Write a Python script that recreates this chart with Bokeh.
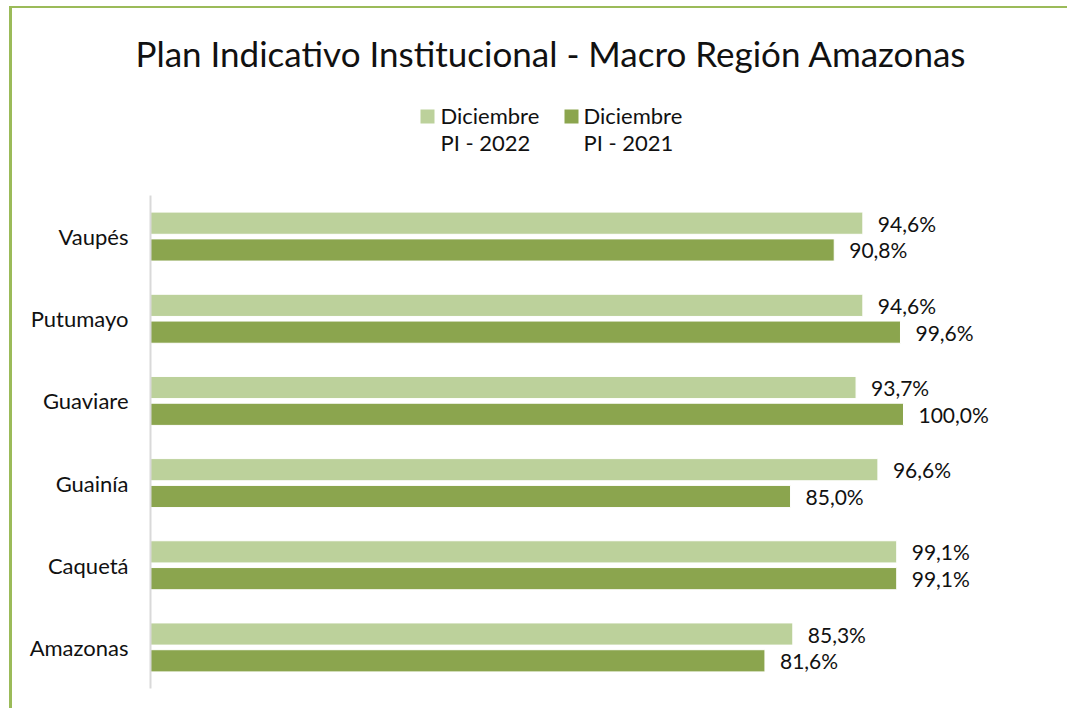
from bokeh.plotting import figure
from bokeh.layouts import column
from bokeh.models import ColumnDataSource, FactorRange, Range1d, Title
from bokeh.transform import dodge
from bokeh.core.properties import value
from bokeh.embed import file_html
from bokeh.resources import INLINE

categories = ["Amazonas", "Caquetá", "Guainía", "Guaviare", "Putumayo", "Vaupés"]
pi_2022 = [85.3, 99.1, 96.6, 93.7, 94.6, 94.6]
pi_2021 = [81.6, 99.1, 85.0, 100.0, 99.6, 90.8]
series_names = ["Diciembre", "Diciembre"]
series_sub = ["PI - 2022", "PI - 2021"]
title_text = "Plan Indicativo Institucional - Macro Región Amazonas"

LIGHT = "#BCD19B"
DARK = "#8BA54E"
FONT = "Lato"
TXT = "#111111"

def fmt(v):
    return f"{v:.1f}".replace(".", ",") + "%"

src = ColumnDataSource(dict(
    cat=categories,
    a=pi_2022,
    b=pi_2021,
    la=[fmt(v) for v in pi_2022],
    lb=[fmt(v) for v in pi_2021],
))

W = 1055
TOP_H = 187
MB_L = 138
MB_R = W - MB_L - 900
HEAD = 70

# ---- header (title + legend); frame uses canvas pixel coordinates ----
top = figure(width=W, height=TOP_H, output_backend="svg", toolbar_location=None, tools="",
             x_range=Range1d(MB_L, W - MB_R), y_range=Range1d(TOP_H, HEAD),
             x_axis_location=None, y_axis_location=None,
             min_border_left=MB_L, min_border_right=MB_R,
             min_border_top=HEAD, min_border_bottom=0)
top.title = Title(text=title_text, align="left", offset=-15, standoff=10,
                  text_font=FONT, text_font_size="35px", text_font_style="normal",
                  text_color=TXT)
top.outline_line_color = None
top.xgrid.visible = False
top.ygrid.visible = False
top.background_fill_color = "white"
top.border_fill_color = "white"

leg = ColumnDataSource(dict(
    bx=[415, 559], by=[108, 108], col=[LIGHT, DARK],
    tx=[428, 571], t1=series_names, t2=series_sub,
    y1=[107, 107], y2=[134, 134],
))
top.rect(x="bx", y="by", width=14, height=14, fill_color="col", line_color=None, source=leg)
top.text(x="tx", y="y1", text="t1", source=leg, text_font=value(FONT), text_font_size="22px",
         text_color=TXT, text_align="left", text_baseline="middle")
top.text(x="tx", y="y2", text="t2", source=leg, text_font=value(FONT), text_font_size="22px",
         text_color=TXT, text_align="left", text_baseline="middle")

# ---- main bar chart ----
H = 513
p = figure(width=W, height=H, output_backend="svg", toolbar_location=None, tools="",
           y_range=FactorRange(*categories), x_range=Range1d(0, 900 * 100 / 753),
           x_axis_location=None, title=None,
           min_border_left=MB_L, min_border_right=MB_R,
           min_border_top=0, min_border_bottom=20)
p.outline_line_color = None
p.background_fill_color = "white"
p.border_fill_color = "white"
p.xgrid.visible = False
p.ygrid.visible = False

off = 0.163
hgt = 0.27
p.hbar(y=dodge("cat", off, range=p.y_range), right="a", left=0, height=hgt, source=src,
       fill_color=LIGHT, line_color="white", line_width=1)
p.hbar(y=dodge("cat", -off, range=p.y_range), right="b", left=0, height=hgt, source=src,
       fill_color=DARK, line_color="white", line_width=1)

p.text(x="a", y=dodge("cat", off, range=p.y_range), text="la", source=src, x_offset=15,
       text_font=value(FONT), text_font_size="21px", text_color=TXT,
       text_baseline="middle", text_align="left")
p.text(x="b", y=dodge("cat", -off, range=p.y_range), text="lb", source=src, x_offset=15,
       text_font=value(FONT), text_font_size="21px", text_color=TXT,
       text_baseline="middle", text_align="left")

ax = p.yaxis[0]
ax.axis_line_color = "#D9D9D9"
ax.axis_line_width = 2
ax.major_tick_line_color = None
ax.minor_tick_line_color = None
ax.major_tick_out = 0
ax.major_tick_in = 0
ax.major_label_standoff = 22
ax.major_label_text_font = FONT
ax.major_label_text_font_size = "22px"
ax.major_label_text_color = TXT

layout = column(top, p, spacing=0)
layout.styles = {"margin-left": "9px", "margin-top": "6px",
                 "border-left": "3px solid #9BBB59", "border-top": "2px solid #9BBB59"}

open("out.html", "w").write(file_html(layout, INLINE))
